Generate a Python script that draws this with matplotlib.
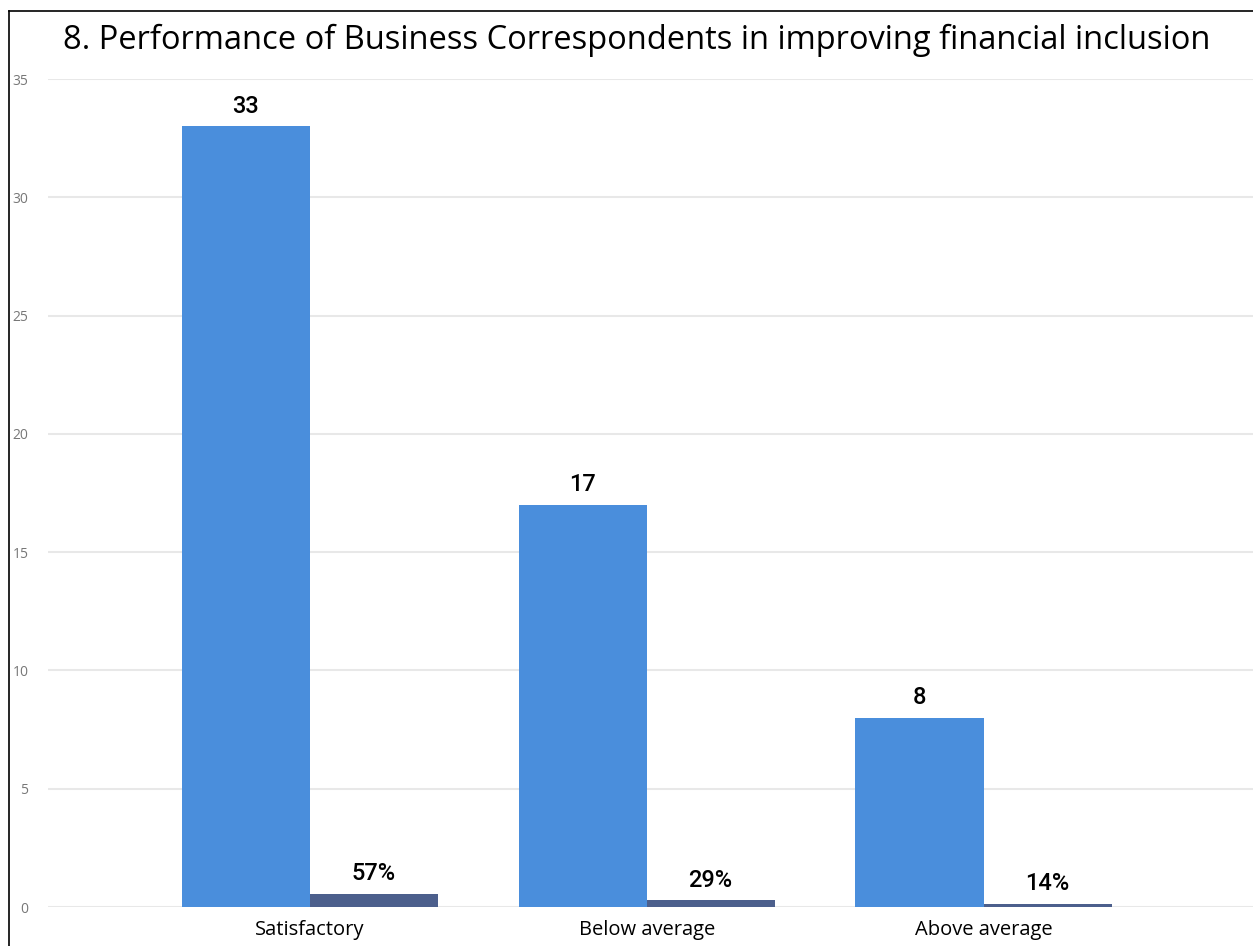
import matplotlib
matplotlib.use("Agg")
import matplotlib.pyplot as plt
import numpy as np

# survey responses: count and share of respondents
categories = ["Satisfactory", "Below average", "Above average"]
counts = [33, 17, 8]
shares = [0.57, 0.29, 0.14]
yticks = [0, 5, 10, 15, 20, 25, 30, 35]

plt.rcParams['font.family'] = ['Open Sans', 'DejaVu Sans']

fig = plt.figure(figsize=(12.53, 9.46), dpi=100)
ax = fig.add_axes([48/1253, 1 - 907/946, 1 - 48/1253, 828/946])

x = np.arange(len(categories))
w = 0.38
b1 = ax.bar(x - w/2, counts, w, color="#4a8edc", zorder=3)
b2 = ax.bar(x + w/2, shares, w, color="#4c5f8c", zorder=3)

for rect, v in zip(b1, counts):
    ax.annotate(str(v), (rect.get_x() + rect.get_width()/2, rect.get_height()),
                xytext=(0, 6), textcoords="offset points", ha="center", va="bottom",
                fontsize=17, family="Roboto", fontweight="medium")
for rect, v in zip(b2, shares):
    ax.annotate(f"{v:.0%}", (rect.get_x() + rect.get_width()/2, rect.get_height()),
                xytext=(0, 6), textcoords="offset points", ha="center", va="bottom",
                fontsize=17, family="Roboto", fontweight="medium")

ax.set_ylim(0, 35)
ax.set_xlim(-0.777, 2.8)
ax.set_yticks(yticks)
ax.set_xticks(x)
ax.set_xticklabels(categories, fontsize=14.5)
ax.tick_params(axis="y", labelsize=10, labelcolor="#777777", length=0, pad=14)
ax.tick_params(axis="x", length=0, pad=9)
ax.grid(axis="y", color="#e8e8e8", linewidth=1.5, zorder=0)
for s in ax.spines.values():
    s.set_visible(False)

fig.text(0.508, 1 - 40/946, "8. Performance of Business Correspondents in improving financial inclusion",
         ha="center", va="center", fontsize=23.5)

# frame lines along top and left edge
fig.add_artist(plt.Line2D([9/1253, 1], [1 - 11/946, 1 - 11/946], color="black", linewidth=1.2))
fig.add_artist(plt.Line2D([9/1253, 9/1253], [0, 1 - 11/946], color="black", linewidth=1.2))

fig.savefig("out.png", dpi=100)
